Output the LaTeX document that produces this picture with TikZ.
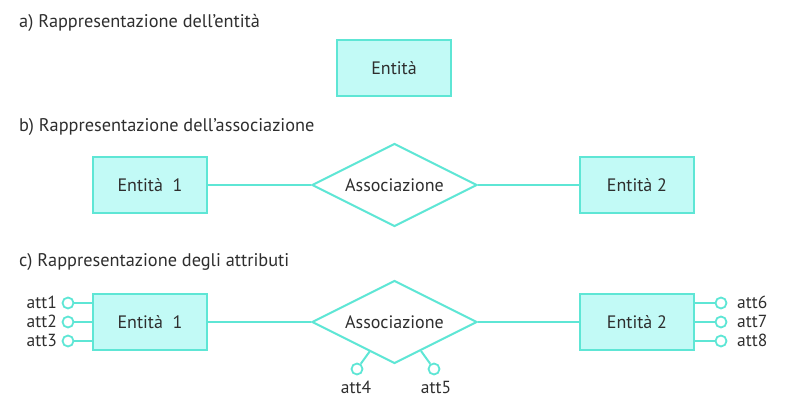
\documentclass[tikz,border=0pt]{standalone}
\usepackage{fontspec}
\setmainfont{PT Sans}
\usetikzlibrary{shapes.geometric}
\definecolor{bord}{HTML}{5EE6D5}
\definecolor{fil}{HTML}{C2FAF6}
\definecolor{txt}{HTML}{2E2E2E}
\tikzset{
  ent/.style={draw=bord,fill=fil,line width=2pt,minimum width=114pt,minimum height=56pt,inner sep=0pt,text=txt,font=\fontsize{18}{21}\selectfont},
  rel/.style={draw=bord,fill=white,line width=2pt,diamond,aspect=2,minimum width=165pt,minimum height=83pt,inner sep=0pt,text=txt,font=\fontsize{18}{21}\selectfont},
  conn/.style={draw=bord,line width=2pt},
  attc/.style={circle,draw=bord,fill=white,line width=1.8pt,minimum size=11pt,inner sep=0pt},
  lab/.style={text=txt,font=\fontsize{17.5}{20}\selectfont,inner sep=0pt},
  head/.style={text=txt,font=\fontsize{18.3}{21}\selectfont,inner sep=0pt,anchor=west}
}
\begin{document}
\begin{tikzpicture}[x=1pt,y=-1pt]
\useasboundingbox (0,0) rectangle (796,406);
% a
\node[head] (ha) at (19,23) {a) Rappresentazione dell’entità};
\node[ent] (e0) at (394,68) {Entità};
% b
\node[head] (hb) at (19,127) {b) Rappresentazione dell’associazione};
\node[ent] (e1b) at (150,185) {Entità\ \ 1};
\node[rel] (rb) at (394.5,185) {Associazione};
\node[ent] (e2b) at (637,185) {Entità 2};
\draw[conn] (e1b.east) -- (rb.west);
\draw[conn] (rb.east) -- (e2b.west);
% c
\node[head] (hc) at (19,262) {c) Rappresentazione degli attributi};
\node[ent] (e1c) at (150,322) {Entità\ \ 1};
\node[rel] (rc) at (394.5,322) {Associazione};
\node[ent] (e2c) at (637,322) {Entità 2};
\draw[conn] (e1c.east) -- (rc.west);
\draw[conn] (rc.east) -- (e2c.west);
% attributes left
\node[attc] (c1) at (68,303) {};
\node[attc] (c2) at (68,322) {};
\node[attc] (c3) at (68,341) {};
\coordinate (p1) at (e1c.west |- c1);
\coordinate (p2) at (e1c.west |- c2);
\coordinate (p3) at (e1c.west |- c3);
\draw[conn] (c1) -- (p1);
\draw[conn] (c2) -- (p2);
\draw[conn] (c3) -- (p3);
\node[lab,anchor=east] (a1) at (57,302) {att1};
\node[lab,anchor=east] (a2) at (57,321) {att2};
\node[lab,anchor=east] (a3) at (57,340) {att3};
% attributes right
\node[attc] (c6) at (721,303) {};
\node[attc] (c7) at (721,322) {};
\node[attc] (c8) at (721,341) {};
\coordinate (p6) at (e2c.east |- c6);
\coordinate (p7) at (e2c.east |- c7);
\coordinate (p8) at (e2c.east |- c8);
\draw[conn] (p6) -- (c6);
\draw[conn] (p7) -- (c7);
\draw[conn] (p8) -- (c8);
\node[lab,anchor=west] (a6) at (737,302) {att6};
\node[lab,anchor=west] (a7) at (737,321) {att7};
\node[lab,anchor=west] (a8) at (737,340) {att8};
% attributes on association
\node[attc] (c4) at (357,369) {};
\node[attc] (c5) at (434,369) {};
\coordinate (q4) at (370,351);
\coordinate (q5) at (421,351);
\draw[conn] (q4) -- (c4);
\draw[conn] (q5) -- (c5);
\node[lab] (a4) at (356,387) {att4};
\node[lab] (a5) at (436,387) {att5};
\end{tikzpicture}
\end{document}
